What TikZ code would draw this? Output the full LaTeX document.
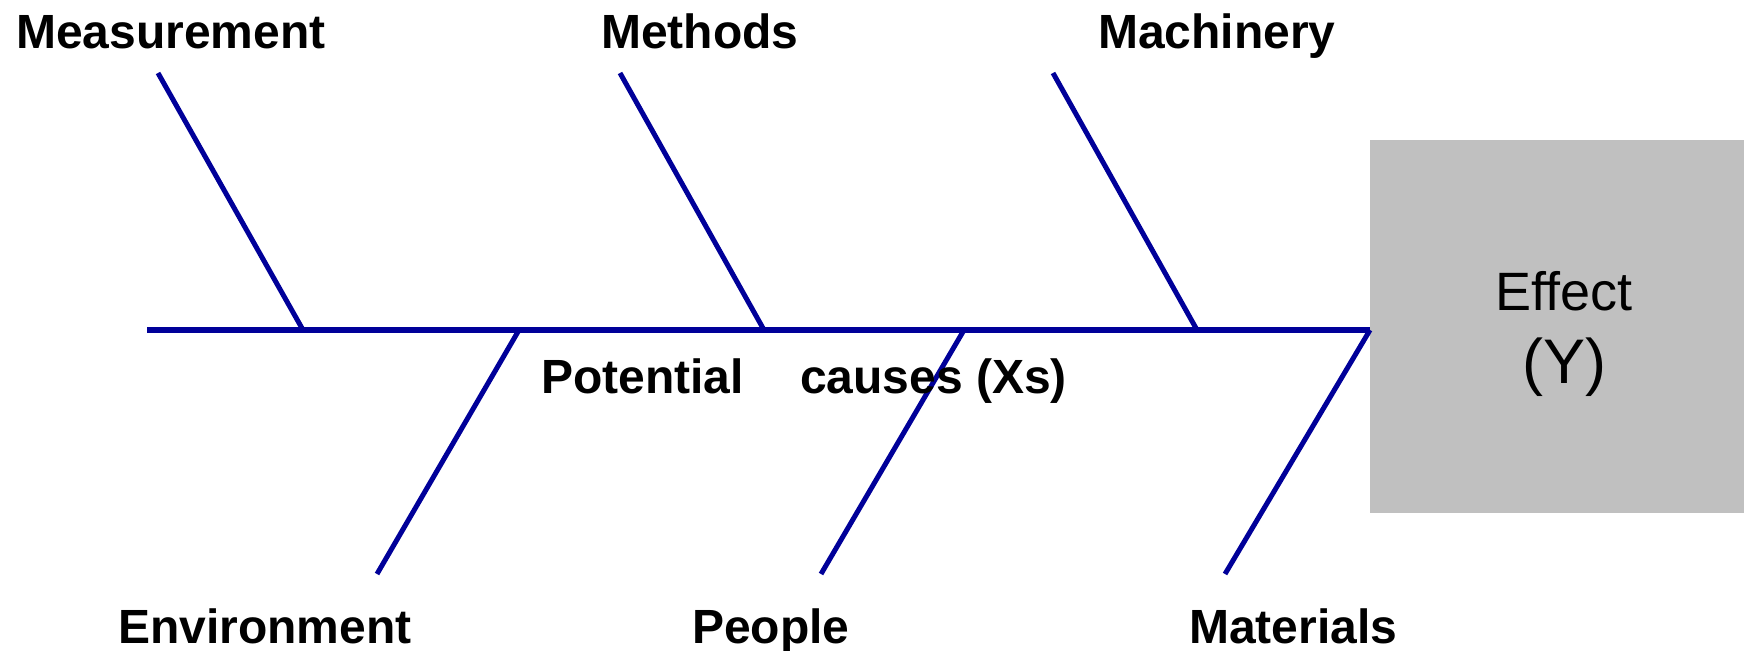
\documentclass[tikz,border=0pt]{standalone}
\usepackage{fontspec}
\setmainfont{Liberation Sans}
\definecolor{bone}{RGB}{0,0,153}
\definecolor{effectgray}{RGB}{192,192,192}
\begin{document}
\begin{tikzpicture}[x=1pt,y=-1pt,
  catlabel/.style={anchor=base west,inner sep=0pt,font=\fontsize{48}{52}\selectfont\bfseries},
  efftext/.style={anchor=base,inner sep=0pt,font=\fontsize{54}{60}\selectfont},
  spine/.style={draw=bone,line width=5.5pt},
  bone/.style={draw=bone,line width=5pt}]
\useasboundingbox (0,0) rectangle (1744,650);
% effect box
\fill[effectgray] (1370,140) rectangle (1744,513);
\coordinate (head) at (1370,330);
\coordinate (tail) at (147,330);
\node[efftext] (eff) at (1564,310) {Effect};
\node[efftext,font=\fontsize{63}{70}\selectfont] (effy) at (1564,383) {(Y)};
% spine
\draw[spine] (tail) -- (head);
% branch points on spine
\coordinate (jMeas) at (303,330);
\coordinate (jMeth) at (764,330);
\coordinate (jMach) at (1197,330);
\coordinate (jEnv) at (519,330);
\coordinate (jPeo) at (964,330);
\coordinate (jMat) at (1370,330);
% branch ends
\coordinate (eMeas) at (158,73);
\coordinate (eMeth) at (620,73);
\coordinate (eMach) at (1053,73);
\coordinate (eEnv) at (377,574);
\coordinate (ePeo) at (821,574);
\coordinate (eMat) at (1225,574);
\draw[bone] (eMeas) -- (jMeas);
\draw[bone] (eMeth) -- (jMeth);
\draw[bone] (eMach) -- (jMach);
\draw[bone] (jEnv) -- (eEnv);
\draw[bone] (jPeo) -- (ePeo);
\draw[bone] (jMat) -- (eMat);
% labels
\node[catlabel] (lMeas) at (16,49) {Measurement};
\node[catlabel] (lMeth) at (601,49) {Methods};
\node[catlabel] (lMach) at (1098,49) {Machinery};
\node[catlabel] (lEnv) at (118,643) {Environment};
\node[catlabel] (lPeo) at (692,643) {People};
\node[catlabel] (lMat) at (1189,643) {Materials};
\node[catlabel] (pot) at (541,393) {Potential};
\node[catlabel] (cau) at (800,393) {causes (Xs)};
\end{tikzpicture}
\end{document}
